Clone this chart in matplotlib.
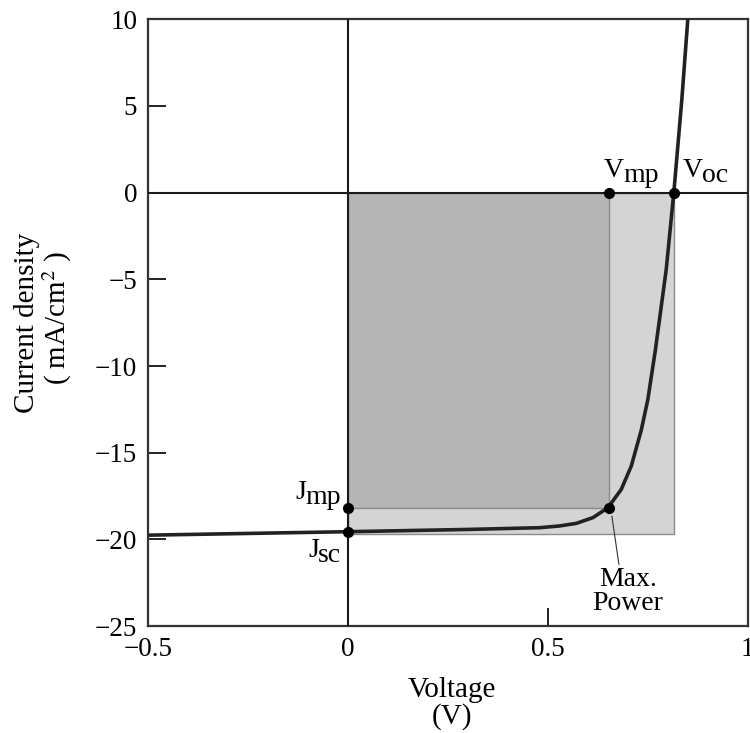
import matplotlib
matplotlib.use("Agg")
import matplotlib.pyplot as plt
from matplotlib.patches import Rectangle

# ---- data ----
voltage = [-0.5, 0.0, 0.3, 0.479, 0.529, 0.571, 0.6125, 0.65, 0.6835, 0.7085,
           0.7335, 0.75, 0.769, 0.796, 0.815, 0.835, 0.85]
current = [-19.75, -19.55, -19.42, -19.32, -19.22, -19.07, -18.74, -18.17, -17.11, -15.77,
           -13.7, -11.93, -9.05, -4.43, 0.0, 5.35, 10.0]

v_oc = 0.815
j_sc = -19.55
v_mp = 0.652
j_mp = -18.2
rect_bottom = -19.7

x_ticks = [-0.5, 0, 0.5, 1]
x_ticklabels = ["\u22120.5", "0", "0.5", "1"]
y_ticks = [10, 5, 0, -5, -10, -15, -20, -25]
y_ticklabels = ["10", "5", "0", "\u22125", "\u221210", "\u221215", "\u221220", "\u221225"]

plt.rcParams["font.family"] = ["Liberation Serif", "DejaVu Serif"]
plt.rcParams["mathtext.fontset"] = "stix"

fig = plt.figure(figsize=(7.5, 7.33), dpi=100)
ax = fig.add_axes([0.1977, 0.1457, 0.7993, 0.828])
ax.set_xlim(-0.5, 1.0)
ax.set_ylim(-25, 10)

# shaded rectangles
ax.add_patch(Rectangle((0, rect_bottom), v_oc, -rect_bottom, facecolor="#d4d4d4",
                       edgecolor="#8a8a8a", linewidth=1.0, zorder=1))
ax.add_patch(Rectangle((0, j_mp), v_mp, -j_mp, facecolor="#b5b5b5",
                       edgecolor="#8a8a8a", linewidth=1.0, zorder=2))

# axis lines
ax.axhline(0, color="#1a1a1a", linewidth=1.5, zorder=3)
ax.axvline(0, color="#1a1a1a", linewidth=1.5, zorder=3)

# J-V curve
ax.plot(voltage, current, color="#222222", linewidth=2.6, zorder=4,
        solid_capstyle="butt", solid_joinstyle="round")

# dots
ax.plot([0, 0, v_mp, v_oc, v_mp], [j_sc, j_mp, 0, 0, j_mp], "o", color="black",
        markersize=7, zorder=5)

fs_tick = 19.5
fs_lab = 21
fs_ann = 20


def sub_label(x, y, main, sub):
    """Main letter with a full-size, lowered subscript (as in the reference)."""
    t = ax.annotate(main, xy=(x, y), xytext=(0, 0), textcoords="offset points",
                    fontsize=fs_ann, ha="left", va="baseline")
    fig.canvas.draw()
    bb = t.get_window_extent()
    w_pt = bb.width * 72 / fig.dpi
    ax.annotate(sub, xy=(x, y), xytext=(w_pt - 0.5, -3.5), textcoords="offset points",
                fontsize=fs_ann, ha="left", va="baseline")


sub_label(v_mp - 0.012, 0.9, "V", "mp")
sub_label(v_oc + 0.023, 0.9, "V", "oc")
sub_label(-0.133, j_mp + 0.55, "J", "mp")
sub_label(-0.1, j_sc - 1.45, "J", "sc")

ax.annotate("Max.\nPower", xy=(v_mp + 0.008, j_mp - 0.45), xytext=(0.7, -21.6),
            fontsize=fs_ann, ha="center", va="top", linespacing=0.92,
            arrowprops=dict(arrowstyle="-", color="#333333", linewidth=0.8,
                            shrinkA=0, shrinkB=0, relpos=(0.38, 1.0)))

# ticks
ax.set_xticks(x_ticks)
ax.set_xticklabels(x_ticklabels, fontsize=fs_tick)
ax.set_yticks(y_ticks)
ax.set_yticklabels(y_ticklabels, fontsize=fs_tick)
ax.tick_params(direction="in", length=13, width=1.4, color="#222222", pad=8)
ax.tick_params(axis="x", pad=8)

for s in ax.spines.values():
    s.set_color("#333333")
    s.set_linewidth(1.6)

fig.text(0.603, 0.058, "Voltage", fontsize=fs_lab, ha="center", va="center")
fig.text(0.603, 0.022, "(V)", fontsize=fs_lab, ha="center", va="center")
fig.text(0.036, 0.559, "Current density", fontsize=fs_lab, ha="center", va="center",
         rotation=90)
fig.text(0.077, 0.566, r"( mA/cm$^2$ )", fontsize=fs_lab, ha="center", va="center",
         rotation=90)

fig.savefig("out.png", dpi=100)
